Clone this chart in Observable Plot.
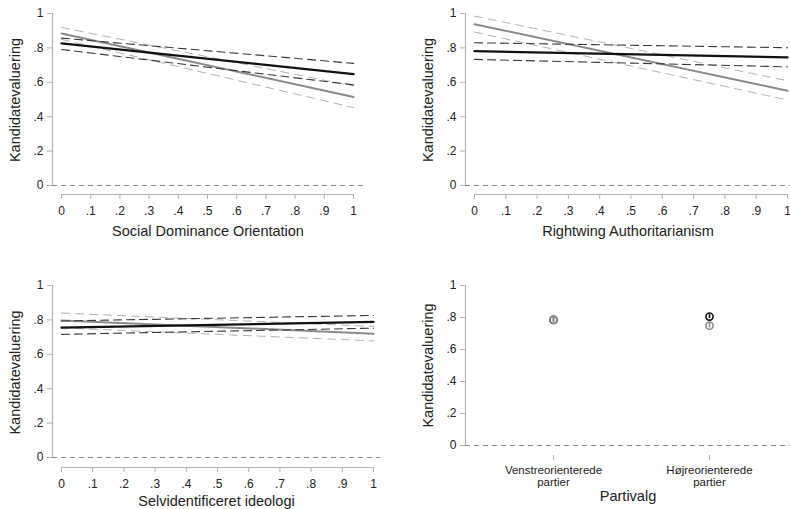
<!DOCTYPE html>
<html><head><meta charset="utf-8">
<script src="https://cdn.jsdelivr.net/npm/d3@7"></script>
<script src="https://cdn.jsdelivr.net/npm/@observablehq/plot@0.6"></script>
<style>
body{margin:0;background:#fff;}
#c{position:relative;width:790px;height:509px;overflow:hidden;}
#c svg{position:absolute;left:0;top:0;}
</style></head><body><div id="c"></div>
<script>
// ---- shared tick data ----
const xTicks = [0, .1, .2, .3, .4, .5, .6, .7, .8, .9, 1];
const xTickLabels = ["0", ".1", ".2", ".3", ".4", ".5", ".6", ".7", ".8", ".9", "1"];
const yTicks = [0, .2, .4, .6, .8, 1];
const yTickLabels = ["0", ".2", ".4", ".6", ".8", "1"];
const yLabel = "Kandidatevaluering";
const xEnds = [0, 1];

// ---- panel 1: Social Dominance Orientation ----
const sdoLabel = "Social Dominance Orientation";
const sdoBlack = [0.826, 0.648];
const sdoBlackLo = [0.791, 0.585];
const sdoBlackHi = [0.857, 0.710];
const sdoGray = [0.884, 0.515];
const sdoGrayLo = [0.850, 0.453];
const sdoGrayHi = [0.919, 0.578];

// ---- panel 2: Rightwing Authoritarianism ----
const rwaLabel = "Rightwing Authoritarianism";
const rwaBlack = [0.781, 0.745];
const rwaBlackLo = [0.733, 0.690];
const rwaBlackHi = [0.830, 0.801];
const rwaGray = [0.938, 0.551];
const rwaGrayLo = [0.892, 0.497];
const rwaGrayHi = [0.985, 0.609];

// ---- panel 3: Selvidentificeret ideologi ----
const ideoLabel = "Selvidentificeret ideologi";
const ideoBlack = [0.755, 0.788];
const ideoBlackLo = [0.716, 0.752];
const ideoBlackHi = [0.794, 0.826];
const ideoGray = [0.797, 0.720];
const ideoGrayLo = [0.754, 0.678];
const ideoGrayHi = [0.840, 0.762];

// ---- panel 4: Partivalg ----
const partyLabel = "Partivalg";
const parties = ["Venstreorienterede\npartier", "Højreorienterede\npartier"];
const partyBlack = [0.785, 0.806];
const partyBlackLo = [0.772, 0.794];
const partyBlackHi = [0.798, 0.818];
const partyGray = [0.786, 0.749];
const partyGrayLo = [0.772, 0.735];
const partyGrayHi = [0.800, 0.763];

// ---- styling ----
const FONT = "'Liberation Sans', Arial, Helvetica, sans-serif";
const AXIS = "#b4b4b4";
const TXT = "#222";
const BLACK = "#111";
const GRAY = "#8a8a8a";
const BLACK_CI = "#3a3a3a";
const GRAY_CI = "#b3b3b3";
const W = 790, H = 509;

function rows(ys) { return xEnds.map((x, i) => ({x, y: ys[i]})); }

function lineMarks(black, bLo, bHi, gray, gLo, gHi) {
  return [
    Plot.lineY(rows(gLo), {x: "x", y: "y", stroke: GRAY_CI, strokeWidth: 1, strokeDasharray: "8,6"}),
    Plot.lineY(rows(gHi), {x: "x", y: "y", stroke: GRAY_CI, strokeWidth: 1, strokeDasharray: "8,6"}),
    Plot.lineY(rows(gray), {x: "x", y: "y", stroke: GRAY, strokeWidth: 2}),
    Plot.lineY(rows(bLo), {x: "x", y: "y", stroke: BLACK_CI, strokeWidth: 1.1, strokeDasharray: "8,5"}),
    Plot.lineY(rows(bHi), {x: "x", y: "y", stroke: BLACK_CI, strokeWidth: 1.1, strokeDasharray: "8,5"}),
    Plot.lineY(rows(black), {x: "x", y: "y", stroke: BLACK, strokeWidth: 2.3})
  ];
}

function commonMarks(cfg) {
  return [
    Plot.ruleY([0], {stroke: "#8c8c8c", strokeWidth: 1.2, strokeDasharray: "5,4"}),
    Plot.ruleX([cfg.yAxisAt], {y1: 0, y2: 1, dx: cfg.yAxisDx, stroke: AXIS, strokeWidth: 1.2}),
    Plot.axisY(yTicks, {anchor: "left", tickSize: 5, tickPadding: 4, stroke: AXIS,
      tickFormat: (d, i) => yTickLabels[i], fill: TXT, fontSize: 12, label: null}),
    Plot.text([yLabel], {frameAnchor: "left", rotate: -90, dx: -37.5, text: d => d,
      textAnchor: "middle", lineAnchor: "middle", fontSize: 14.5, fill: TXT}),
    Plot.text([cfg.xLabel], {frameAnchor: "bottom", dy: cfg.xLabelDy, text: d => d,
      textAnchor: "middle", lineAnchor: "middle", fontSize: 14.5, fill: TXT})
  ];
}

function panel(cfg, extra) {
  return Plot.plot({
    width: W, height: H,
    marginLeft: cfg.left, marginRight: W - cfg.right,
    marginTop: cfg.top, marginBottom: H - cfg.bottom,
    x: cfg.x,
    y: {domain: [0, 1], range: cfg.yRange},
    style: {fontFamily: FONT, fontSize: "12px", color: TXT, background: "transparent", overflow: "visible"},
    marks: [
      ...commonMarks(cfg),
      ...extra
    ]
  });
}

function numericXAxis(cfg) {
  return [
    Plot.ruleY([0], {x1: 0, x2: 1, dy: cfg.bottom - cfg.yRange[0], stroke: AXIS, strokeWidth: 1.2}),
    Plot.axisX(xTicks, {anchor: "bottom", tickSize: 5, tickPadding: 7, stroke: AXIS,
      tickFormat: (d, i) => xTickLabels[i], fill: TXT, fontSize: 12, label: null})
  ];
}

const c = document.getElementById("c");

// Panel 1
{
  const cfg = {left: 52, right: 363, top: 5, bottom: 194, yRange: [185, 13],
    x: {domain: [0, 1], range: [61, 353]}, yAxisAt: 0, yAxisDx: -9, xLabel: sdoLabel, xLabelDy: 37};
  c.append(panel(cfg, [...numericXAxis(cfg),
    ...lineMarks(sdoBlack, sdoBlackLo, sdoBlackHi, sdoGray, sdoGrayLo, sdoGrayHi)]));
}
// Panel 2
{
  const cfg = {left: 465, right: 790, top: 5, bottom: 194, yRange: [185, 13],
    x: {domain: [0, 1], range: [474, 787]}, yAxisAt: 0, yAxisDx: -9, xLabel: rwaLabel, xLabelDy: 37};
  c.append(panel(cfg, [...numericXAxis(cfg),
    ...lineMarks(rwaBlack, rwaBlackLo, rwaBlackHi, rwaGray, rwaGrayLo, rwaGrayHi)]));
}
// Panel 3
{
  const cfg = {left: 52, right: 380, top: 277, bottom: 467, yRange: [457, 285],
    x: {domain: [0, 1], range: [61, 373]}, yAxisAt: 0, yAxisDx: -9, xLabel: ideoLabel, xLabelDy: 34};
  c.append(panel(cfg, [...numericXAxis(cfg),
    ...lineMarks(ideoBlack, ideoBlackLo, ideoBlackHi, ideoGray, ideoGrayLo, ideoGrayHi)]));
}
// Panel 4
{
  const cfg = {left: 465, right: 790, top: 275, bottom: 455, yRange: [445, 285],
    x: {type: "point", domain: parties, range: [553, 709], padding: 0}, yAxisAt: parties[0], yAxisDx: 465 - 553,
    xLabel: partyLabel, xLabelDy: 41};
  const pts = (vals, lo, hi) => parties.map((p, i) => ({p, v: vals[i], lo: lo[i], hi: hi[i]}));
  const blackPts = pts(partyBlack, partyBlackLo, partyBlackHi);
  const grayPts = pts(partyGray, partyGrayLo, partyGrayHi);
  c.append(panel(cfg, [
    Plot.ruleY([0], {x1: parties[0], x2: parties[1], dy: cfg.bottom - cfg.yRange[0], stroke: AXIS, strokeWidth: 1.2}),
    Plot.axisX(parties, {anchor: "bottom", tickSize: 5, tickPadding: 5, stroke: AXIS, fill: TXT,
      fontSize: 11.5, lineHeight: 1.05, label: null}),
    Plot.ruleX(blackPts, {x: "p", y1: "lo", y2: "hi", stroke: BLACK, strokeWidth: 1.6}),
    Plot.dot(blackPts, {x: "p", y: "v", r: 3.6, stroke: BLACK, strokeWidth: 1.6, fill: "none"}),
    Plot.ruleX(grayPts, {x: "p", y1: "lo", y2: "hi", stroke: GRAY, strokeWidth: 1.6}),
    Plot.dot(grayPts, {x: "p", y: "v", r: 3.6, stroke: GRAY, strokeWidth: 1.6, fill: "none"})
  ]));
}
</script></body></html>
